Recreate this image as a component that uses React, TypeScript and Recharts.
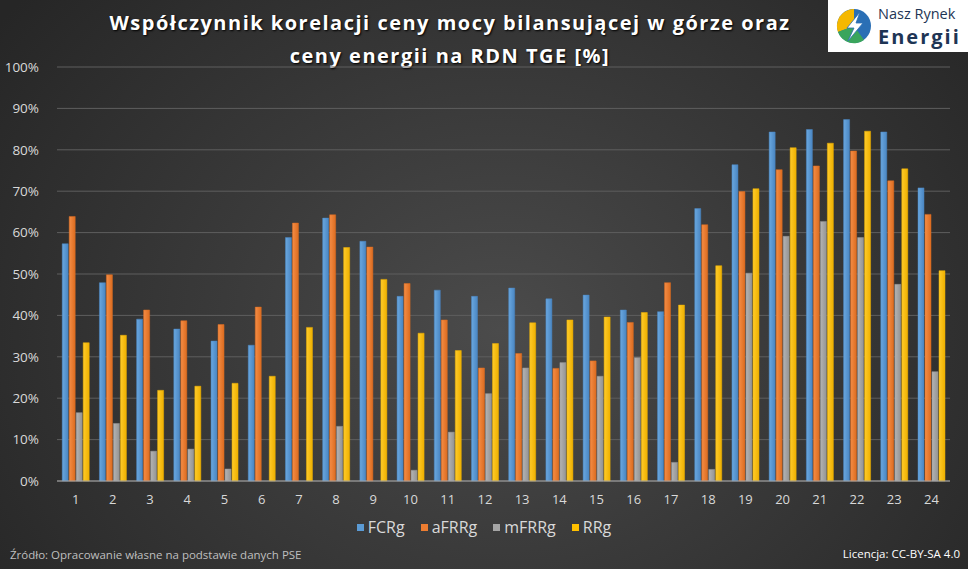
import React from "react";
import {
  BarChart,
  Bar,
  XAxis,
  YAxis,
  CartesianGrid,
} from "recharts";

const HOURS = [
  "1", "2", "3", "4", "5", "6", "7", "8", "9", "10", "11", "12",
  "13", "14", "15", "16", "17", "18", "19", "20", "21", "22", "23", "24",
];

// correlation coefficients in %
const FCRG = [
  57.3, 47.9, 39.1, 36.7, 33.8, 32.8, 58.8, 63.5, 57.9, 44.6, 46.1, 44.6,
  46.6, 44.0, 44.9, 41.3, 40.9, 65.8, 76.4, 84.3, 84.9, 87.3, 84.3, 70.8,
];
const AFRRG = [
  63.9, 49.8, 41.3, 38.7, 37.8, 42.0, 62.3, 64.3, 56.5, 47.7, 38.9, 27.3,
  30.8, 27.2, 29.0, 38.3, 47.9, 61.9, 69.9, 75.2, 76.1, 79.7, 72.5, 64.4,
];
const MFRRG = [
  16.5, 13.9, 7.2, 7.7, 2.9, 0, 0, 13.2, 0, 2.6, 11.8, 21.1,
  27.3, 28.6, 25.3, 29.8, 4.5, 2.8, 50.2, 59.1, 62.7, 58.8, 47.5, 26.4,
];
const RRG = [
  33.4, 35.2, 21.9, 22.9, 23.6, 25.3, 37.1, 56.4, 48.7, 35.7, 31.5, 33.2,
  38.2, 38.9, 39.6, 40.7, 42.5, 52.0, 70.6, 80.5, 81.6, 84.5, 75.4, 50.8,
];

const Y_TICKS = [0, 10, 20, 30, 40, 50, 60, 70, 80, 90, 100];

const data = HOURS.map((h, i) => ({
  hour: h,
  FCRg: FCRG[i],
  aFRRg: AFRRG[i],
  mFRRg: MFRRG[i],
  RRg: RRG[i],
}));

const SERIES = [
  { key: "FCRg", color: "#5b9bd5", light: "#6aa8e0", dark: "#4a86c2" },
  { key: "aFRRg", color: "#ed7d31", light: "#f58d45", dark: "#dc6c20" },
  { key: "mFRRg", color: "#a5a5a5", light: "#b4b4b4", dark: "#949494" },
  { key: "RRg", color: "#ffc000", light: "#ffcb2a", dark: "#eeb000" },
];

const FONT = "'Open Sans', 'DejaVu Sans', sans-serif";
const NARROW = "'Liberation Sans Narrow', 'Open Sans', sans-serif";

function Logo() {
  return (
    <div
      style={{
        position: "absolute",
        left: 828,
        top: 0,
        width: 140,
        height: 52,
        background: "#ffffff",
        display: "flex",
        alignItems: "center",
      }}
    >
      <svg width="40" height="40" viewBox="0 0 40 40" style={{ marginLeft: 6 }}>
        <circle cx="20" cy="20" r="17" fill="#2a6fb5" />
        <path d="M20 3 A17 17 0 0 0 4 26 L20 20 Z" fill="#f5b800" />
        <path d="M4 26 A17 17 0 0 0 30 34 L20 20 Z" fill="#3aa55c" />
        <path d="M26 6 L13 22 L20 22 L14 35 L29 17 L22 17 Z" fill="#ffffff" stroke="#2a6fb5" strokeWidth="0.8" />
      </svg>
      <svg width="92" height="48" style={{ marginLeft: 2 }}>
        <text x="2" y="17" fontFamily={FONT} fontSize="14.5" fill="#1e3555">
          Nasz Rynek
        </text>
        <text x="2" y="42" fontFamily={FONT} fontSize="20" fontWeight="700" letterSpacing="2" fill="#1e3555">
          Energii
        </text>
      </svg>
    </div>
  );
}

function SeriesLegend() {
  return (
    <div
      style={{
        position: "absolute",
        left: 0,
        top: 516,
        width: 968,
        display: "flex",
        justifyContent: "center",
        gap: 16,
        fontFamily: NARROW,
        fontSize: 16,
        color: "#d9d9d9",
      }}
    >
      {SERIES.map((s) => (
        <div key={s.key} style={{ display: "flex", alignItems: "center" }}>
          <span
            style={{
              display: "inline-block",
              width: 7,
              height: 7,
              background: s.color,
              marginRight: 4,
            }}
          />
          {s.key}
        </div>
      ))}
    </div>
  );
}

export default function App() {
  return (
    <div
      style={{
        position: "absolute",
        left: 0,
        top: 0,
        width: 968,
        height: 569,
        overflow: "hidden",
        background:
          "radial-gradient(ellipse 620px 520px at 500px 330px, #4b4b4b 0%, #3a3a3a 45%, #262626 100%)",
        fontFamily: FONT,
      }}
    >
      <div
        style={{
          position: "absolute",
          left: 80,
          top: 6,
          width: 740,
          textAlign: "center",
          color: "#ffffff",
          fontWeight: 700,
          fontSize: 20,
          letterSpacing: 1.5,
          lineHeight: "33px",
          textShadow: "1px 1px 2px #000",
        }}
      >
        Współczynnik korelacji ceny mocy bilansującej w górze oraz
        <br />
        ceny energii na RDN TGE [%]
      </div>
      <Logo />
      <BarChart
        width={968}
        height={569}
        data={data}
        margin={{ top: 67, right: 18, bottom: 58, left: 0 }}
        barCategoryGap="14%"
        barGap={1}
        style={{ position: "absolute", left: 0, top: 0 }}
      >
        <defs>
          {SERIES.map((s) => (
            <linearGradient key={s.key} id={`g-${s.key}`} x1="0" y1="0" x2="1" y2="0">
              <stop offset="0%" stopColor={s.light} />
              <stop offset="100%" stopColor={s.dark} />
            </linearGradient>
          ))}
        </defs>
        <CartesianGrid vertical={false} stroke="#5e5e5e" strokeWidth={1} />
        <XAxis
          dataKey="hour"
          height={30}
          tickLine={false}
          axisLine={{ stroke: "#a6a6a6" }}
          tick={{ fill: "#d9d9d9", fontSize: 13, fontFamily: FONT }}
          tickMargin={8}
        />
        <YAxis
          width={57}
          domain={[0, 100]}
          ticks={Y_TICKS}
          tickFormatter={(v) => `${v}%`}
          tickLine={false}
          axisLine={false}
          tick={{ fill: "#d9d9d9", fontSize: 13.5, fontFamily: FONT }}
          tickMargin={12}
        />
        {SERIES.map((s) => (
          <Bar
            key={s.key}
            dataKey={s.key}
            name={s.key}
            fill={`url(#g-${s.key})`}
            stroke={s.dark}
            strokeWidth={0.5}
            isAnimationActive={false}
          />
        ))}
      </BarChart>
      <SeriesLegend />
      <div
        style={{
          position: "absolute",
          left: 10,
          top: 547,
          color: "#bfbfbf",
          fontSize: 11.5,
          fontFamily: NARROW,
        }}
      >
        Źródło: Opracowanie własne na podstawie danych PSE
      </div>
      <div
        style={{
          position: "absolute",
          right: 8,
          top: 546,
          color: "#ffffff",
          fontSize: 11.5,
          fontFamily: NARROW,
        }}
      >
        Licencja: CC-BY-SA 4.0
      </div>
    </div>
  );
}
